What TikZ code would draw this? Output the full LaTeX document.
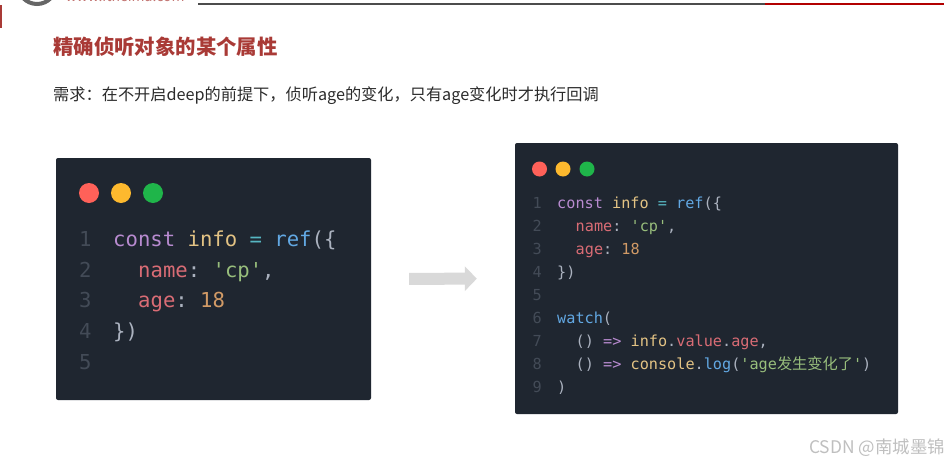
\documentclass[tikz,border=0pt]{standalone}
\usepackage{fontspec}
\usetikzlibrary{arrows.meta}
\setmainfont{Noto Sans CJK SC}
\setmonofont{DejaVu Sans Mono}
\newfontfamily\cjkmono{Noto Sans CJK SC}
\definecolor{headred}{HTML}{A93A36}
\definecolor{bodyink}{HTML}{2B2B2B}
\definecolor{panelbg}{HTML}{1F2630}
\definecolor{lnum}{HTML}{434B57}
\definecolor{cpurple}{HTML}{B88BD0}
\definecolor{cyellow}{HTML}{E3C384}
\definecolor{ccyan}{HTML}{56B6C2}
\definecolor{cblue}{HTML}{62A8E3}
\definecolor{cred}{HTML}{D96C75}
\definecolor{cgreen}{HTML}{98BE7C}
\definecolor{corange}{HTML}{D19A66}
\definecolor{cplain}{HTML}{ABB2BF}
\definecolor{dotred}{HTML}{FF6159}
\definecolor{dotyellow}{HTML}{FDB92E}
\definecolor{dotgreen}{HTML}{1FB54A}
\newcommand{\kw}[1]{\textcolor{cpurple}{#1}}
\newcommand{\vr}[1]{\textcolor{cyellow}{#1}}
\newcommand{\op}[1]{\textcolor{ccyan}{#1}}
\newcommand{\fn}[1]{\textcolor{cblue}{#1}}
\newcommand{\pr}[1]{\textcolor{cred}{#1}}
\newcommand{\st}[1]{\textcolor{cgreen}{#1}}
\newcommand{\nm}[1]{\textcolor{corange}{#1}}
\newcommand{\wcolon}{\char"FF1A\relax}
\newcommand{\wcomma}{\char"FF0C\relax}
\begin{document}
\begin{tikzpicture}[
    x=1pt, y=-1pt,
    panel/.style={fill=panelbg, rounded corners=2pt, inner sep=0pt},
    dot/.style={circle, fill=#1, inner sep=0pt},
    bigcode/.style={anchor=base west, inner sep=0pt, text=cplain, font=\ttfamily\fontsize{20.6}{24}\selectfont},
    smallcode/.style={anchor=base west, inner sep=0pt, text=cplain, font=\ttfamily\fontsize{15.2}{18}\selectfont},
    arrow/.style={-{Triangle[length=12pt, width=24pt]}, line width=12pt, draw=black!15}
]
    \useasboundingbox (0,0) rectangle (949,463);
    \fill[white] (0,0) rectangle (949,463);

    % slide header
    \clip (0,0) rectangle (949,463);
    \draw[black!60, line width=4pt] (37,-15) circle (19);
    \node[inner sep=0pt, text=headred!70, font=\fontsize{14}{16}\selectfont] (site) at (125,-3.5) {www.itheima.com};
    \fill[black!70] (198,3) rectangle (765,5);
    \fill[red!70!black] (765,3) rectangle (944,5);
    \fill[headred] (0,5) rectangle (1.5,28);

    \node[anchor=west, inner sep=0pt, text=headred, font=\bfseries\fontsize{20.4}{24}\selectfont] (title) at (53,47) {精确侦听对象的某个属性};
    \node[anchor=west, inner sep=0pt, text=bodyink, font=\fontsize{16.2}{20}\selectfont] (need) at (53,96) {需求\wcolon 在不开启deep的前提下\wcomma 侦听age的变化\wcomma 只有age变化时才执行回调};

    % left panel
    \node[panel, minimum width=315pt, minimum height=242pt] (lpanel) at (213.5,279) {};
    \node[dot=dotred, minimum size=20pt] (lred) at (89,193) {};
    \node[dot=dotyellow, minimum size=20pt] (lyellow) at (121,193) {};
    \node[dot=dotgreen, minimum size=20pt] (lgreen) at (153,193) {};
    \foreach \n/\y in {1/246, 2/277, 3/307, 4/338, 5/369}
        \node[bigcode, text=lnum] (lnum\n) at (79,\y) {\n};
    \node[bigcode] (lline1) at (113,246) {\kw{const} \vr{info} \op{=} \fn{ref}(\{};
    \node[bigcode] (lline2) at (138,277) {\pr{name}: \st{'cp'},};
    \node[bigcode] (lline3) at (138,307) {\pr{age}: \nm{18}};
    \node[bigcode] (lline4) at (113,338) {\})};

    % right panel
    \node[panel, minimum width=383pt, minimum height=271pt] (rpanel) at (706.5,278.5) {};
    \node[dot=dotred, minimum size=15pt] (rred) at (539.5,169) {};
    \node[dot=dotyellow, minimum size=15pt] (ryellow) at (563,169) {};
    \node[dot=dotgreen, minimum size=15pt] (rgreen) at (587,169) {};
    \foreach \n/\y in {1/208, 2/231, 3/254, 4/277, 5/300, 6/323, 7/346, 8/369, 9/392}
        \node[smallcode, text=lnum] (rnum\n) at (532.5,\y) {\n};
    \node[smallcode] (rline1) at (557,208) {\kw{const} \vr{info} \op{=} \fn{ref}(\{};
    \node[smallcode] (rline2) at (575.5,231) {\pr{name}: \st{'cp'},};
    \node[smallcode] (rline3) at (575.5,254) {\pr{age}: \nm{18}};
    \node[smallcode] (rline4) at (557,277) {\})};
    \node[smallcode] (rline6) at (557,323) {\fn{watch}(};
    \node[smallcode] (rline7) at (575.5,346) {() \kw{=>} \vr{info}.\pr{value}.\pr{age},};
    \node[smallcode] (rline8) at (575.5,369) {() \kw{=>} \vr{console}.\fn{log}(\st{'age{\cjkmono 发生变化了}'})};
    \node[smallcode] (rline9) at (557,392) {)};

    \draw[arrow, shorten <=38pt, shorten >=38pt] (lpanel.east) -- (rpanel.west);

    \node[anchor=east, inner sep=0pt, text=black!25, font=\fontsize{17.4}{20}\selectfont] (mark) at (945,448) {CSDN @南城墨锦};
\end{tikzpicture}
\end{document}
